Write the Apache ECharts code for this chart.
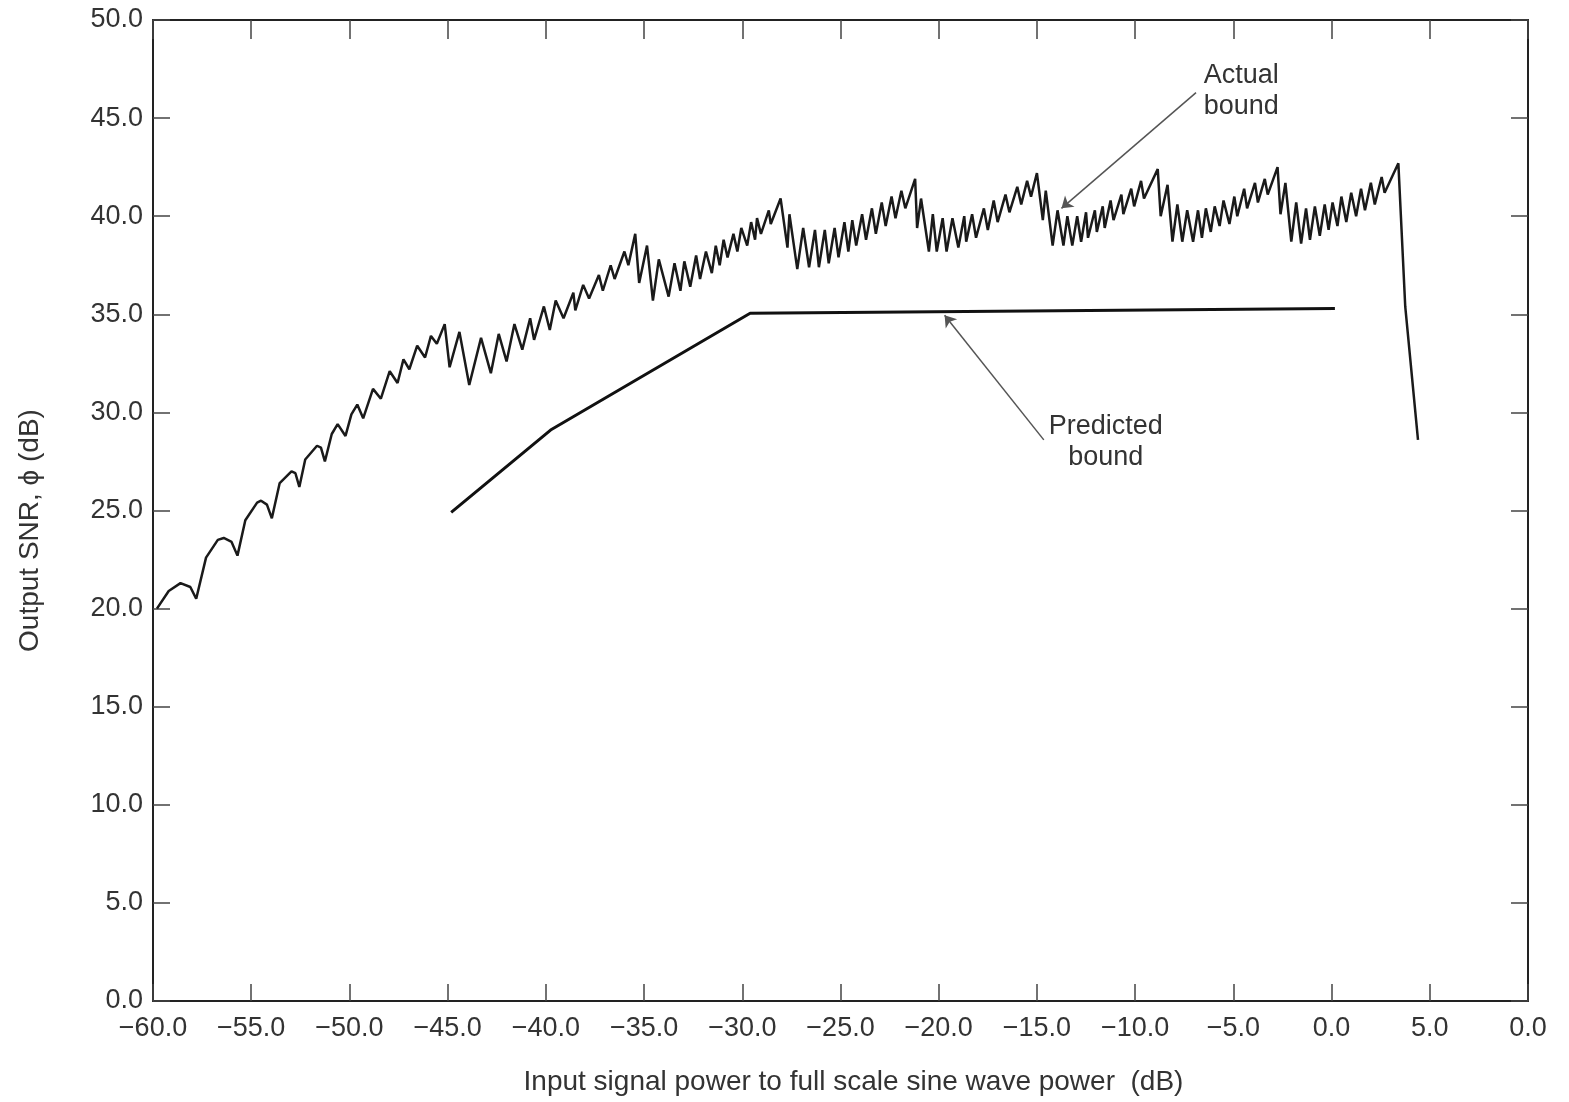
<!DOCTYPE html>
<html>
<head>
<meta charset="utf-8">
<script src="https://cdn.jsdelivr.net/npm/echarts@6/dist/echarts.min.js"></script>
<style>
  html, body { margin: 0; padding: 0; background: #fff; }
  #snr { width: 1569px; height: 1102px; }
</style>
</head>
<body>
<div id="snr"></div>
<script>
// tick labels, as printed on the original figure (last one really reads 0.0)
var xTickLabels = ['−60.0', '−55.0', '−50.0', '−45.0', '−40.0', '−35.0', '−30.0', '−25.0',
    '−20.0', '−15.0', '−10.0', '−5.0', '0.0', '5.0', '0.0'];
var yTickLabels = ['0.0', '5.0', '10.0', '15.0', '20.0', '25.0', '30.0', '35.0', '40.0', '45.0', '50.0'];

// actual bound, read segment by segment (x dB, y dB)
var scallops = [
    [-59.8, 20.0], [-59.2, 20.9], [-58.6, 21.3], [-58.1, 21.1], [-57.8, 20.5],
    [-57.3, 22.6], [-56.7, 23.5], [-56.4, 23.6], [-56.0, 23.4], [-55.7, 22.7],
    [-55.3, 24.5], [-54.7, 25.4], [-54.5, 25.5], [-54.2, 25.3], [-53.95, 24.6],
    [-53.55, 26.4], [-52.95, 27.0], [-52.75, 26.9], [-52.55, 26.2],
    [-52.25, 27.6], [-51.65, 28.3], [-51.45, 28.2], [-51.25, 27.5],
    [-50.9, 28.9], [-50.6, 29.4], [-50.2, 28.8],
    [-49.9, 29.9], [-49.6, 30.4], [-49.3, 29.7],
    [-48.8, 31.2], [-48.4, 30.7],
    [-47.95, 32.1], [-47.55, 31.5],
    [-47.25, 32.7], [-46.95, 32.2],
    [-46.55, 33.4], [-46.15, 32.8],
    [-45.85, 33.9], [-45.55, 33.5]
];
var segB = [
    [-45.15, 34.5], [-44.9, 32.3], [-44.4, 34.1], [-43.9, 31.4], [-43.3, 33.8], [-42.8, 32.0],
    [-42.4, 34.0], [-42.0, 32.6], [-41.6, 34.5], [-41.2, 33.2], [-40.8, 34.8], [-40.6, 33.7],
    [-40.1, 35.4], [-39.8, 34.2], [-39.5, 35.7], [-39.1, 34.8], [-38.6, 36.1], [-38.5, 35.2],
    [-38.1, 36.5], [-37.8, 35.8], [-37.3, 37.0], [-37.1, 36.2], [-36.7, 37.5], [-36.5, 36.8],
    [-36.0, 38.2], [-35.8, 37.5], [-35.45, 39.1]
];
var segC = [
    [-35.25, 36.6], [-34.85, 38.5], [-34.55, 35.7], [-34.25, 37.8], [-33.75, 35.9], [-33.45, 37.6],
    [-33.15, 36.2], [-32.95, 37.7], [-32.65, 36.4], [-32.35, 38.0], [-32.15, 36.8], [-31.85, 38.2],
    [-31.55, 37.1], [-31.35, 38.5], [-31.15, 37.5], [-30.95, 38.8], [-30.75, 37.9], [-30.45, 39.1],
    [-30.25, 38.2], [-30.05, 39.4], [-29.75, 38.5], [-29.55, 39.7], [-29.35, 38.8], [-29.25, 39.9],
    [-29.05, 39.1], [-28.65, 40.3], [-28.55, 39.6], [-28.05, 40.9]
];
var segD = [
    [-27.7, 38.4], [-27.6, 40.1], [-27.2, 37.3], [-26.9, 39.4], [-26.6, 37.4], [-26.3, 39.3],
    [-26.1, 37.4], [-25.8, 39.3], [-25.6, 37.6], [-25.3, 39.4], [-25.1, 37.9], [-24.8, 39.7],
    [-24.6, 38.2], [-24.4, 39.8], [-24.2, 38.5], [-23.9, 40.1], [-23.7, 38.8], [-23.4, 40.4],
    [-23.2, 39.1], [-22.9, 40.7], [-22.7, 39.5], [-22.4, 41.0], [-22.2, 39.9], [-21.9, 41.3],
    [-21.7, 40.4], [-21.2, 41.9]
];
var segE = [
    [-21.1, 39.4], [-20.9, 40.9], [-20.5, 38.2], [-20.3, 40.1], [-20.1, 38.2], [-19.8, 39.9],
    [-19.6, 38.2], [-19.3, 39.9], [-19.0, 38.4], [-18.7, 40.0], [-18.6, 38.7], [-18.3, 40.1],
    [-18.1, 38.9], [-17.7, 40.4], [-17.5, 39.3], [-17.2, 40.8], [-17.0, 39.7], [-16.6, 41.1],
    [-16.4, 40.2], [-16.0, 41.5], [-15.8, 40.6], [-15.5, 41.8], [-15.3, 41.0], [-15.0, 42.2]
];
var segF = [
    [-14.7, 39.8], [-14.55, 41.3], [-14.2, 38.5], [-13.95, 40.3], [-13.65, 38.5], [-13.45, 40.0],
    [-13.2, 38.5], [-12.95, 40.0], [-12.75, 38.7], [-12.5, 40.2], [-12.4, 38.9], [-12.05, 40.3],
    [-11.95, 39.2], [-11.65, 40.5], [-11.55, 39.4], [-11.25, 40.8], [-11.1, 39.8], [-10.7, 41.1],
    [-10.6, 40.1], [-10.2, 41.4], [-10.05, 40.5], [-9.7, 41.8], [-9.55, 40.9], [-8.85, 42.4]
];
var segG = [
    [-8.7, 40.0], [-8.35, 41.6], [-8.1, 38.7], [-7.85, 40.6], [-7.6, 38.7], [-7.35, 40.3],
    [-7.05, 38.7], [-6.8, 40.3], [-6.6, 38.9], [-6.4, 40.4], [-6.15, 39.2], [-5.95, 40.5],
    [-5.7, 39.5], [-5.5, 40.8], [-5.2, 39.6], [-4.95, 41.0], [-4.8, 40.0], [-4.45, 41.4],
    [-4.3, 40.4], [-3.9, 41.7], [-3.75, 40.7], [-3.4, 41.9], [-3.25, 41.1], [-2.75, 42.5]
];
var segH = [
    [-2.6, 40.1], [-2.35, 41.7], [-2.05, 38.7], [-1.8, 40.7], [-1.55, 38.6], [-1.3, 40.4],
    [-1.1, 38.8], [-0.85, 40.5], [-0.6, 39.0], [-0.35, 40.6], [-0.15, 39.3], [0.05, 40.7],
    [0.3, 39.5], [0.5, 41.0], [0.75, 39.7], [1.0, 41.2], [1.25, 40.0], [1.5, 41.4],
    [1.7, 40.3], [2.0, 41.7], [2.2, 40.6], [2.55, 42.0], [2.7, 41.2], [3.4, 42.7],
    [3.75, 35.4], [4.4, 28.6]
];

// predicted bound (piecewise straight)
var predicted = [[-44.82, 24.9], [-39.76, 29.1], [-29.6, 35.05], [0.17, 35.3]];

// callouts: [text x, text y], arrow from -> to
var actualLabelAt = [-4.6, 46.4];
var actualArrow = [[-6.9, 46.3], [-13.75, 40.4]];
var predictedLabelAt = [-11.5, 28.5];
var predictedArrow = [[-14.65, 28.6], [-19.7, 34.95]];

var actual = [].concat(scallops, segB, segC, segD, segE, segF, segG, segH);

var myChart = echarts.init(document.getElementById('snr'));

var font = '"Liberation Sans", Arial, sans-serif';
var inkLine = { color: '#222', width: 2 };
var tickStyle = { color: '#444', width: 1.5 };

option = {
    animation: false,
    backgroundColor: '#fff',
    grid: { left: 153, right: 41, top: 20, bottom: 101 },
    xAxis: [{
        type: 'value', min: -60, max: 10, interval: 5, position: 'bottom',
        axisLine: { onZero: false, lineStyle: inkLine },
        axisTick: { inside: true, length: 17, lineStyle: tickStyle },
        splitLine: { show: false },
        axisLabel: {
            margin: 14, fontSize: 27, color: '#333', fontFamily: font,
            formatter: function (v) { return xTickLabels[Math.round((v + 60) / 5)]; }
        },
        name: 'Input signal power to full scale sine wave power  (dB)',
        nameLocation: 'middle', nameGap: 67,
        nameTextStyle: { fontSize: 28, color: '#333', fontFamily: font, padding: [0, 0, 0, 26] }
    }, {
        type: 'value', min: -60, max: 10, interval: 5, position: 'top',
        axisLine: { onZero: false, lineStyle: inkLine },
        axisTick: { inside: true, length: 19, lineStyle: tickStyle },
        axisLabel: { show: false },
        splitLine: { show: false }
    }],
    yAxis: [{
        type: 'value', min: 0, max: 50, interval: 5, position: 'left',
        axisLine: { onZero: false, lineStyle: inkLine },
        axisTick: { inside: true, length: 17, lineStyle: tickStyle },
        splitLine: { show: false },
        axisLabel: {
            margin: 10, fontSize: 27, color: '#333', fontFamily: font,
            formatter: function (v) { return yTickLabels[Math.round(v / 5)]; }
        },
        name: 'Output SNR, ϕ (dB)',
        nameLocation: 'middle', nameGap: 109,
        nameTextStyle: { fontSize: 28, color: '#333', fontFamily: font, padding: [0, 40, 0, 0] }
    }, {
        type: 'value', min: 0, max: 50, interval: 5, position: 'right',
        axisLine: { onZero: false, lineStyle: inkLine },
        axisTick: { inside: true, length: 17, lineStyle: tickStyle },
        axisLabel: { show: false },
        splitLine: { show: false }
    }],
    series: [{
        name: 'Actual bound',
        type: 'line',
        showSymbol: false,
        silent: true,
        lineStyle: { color: '#1a1a1a', width: 2.5 },
        data: actual,
        markPoint: {
            silent: true,
            symbol: 'circle', symbolSize: 0,
            label: {
                show: true, position: 'inside', fontSize: 27, lineHeight: 31,
                color: '#333', fontFamily: font, align: 'center'
            },
            data: [
                { coord: actualLabelAt, value: 'Actual\nbound', label: { formatter: 'Actual\nbound' } },
                { coord: predictedLabelAt, value: 'Predicted\nbound', label: { formatter: 'Predicted\nbound' } }
            ]
        }
    }, {
        name: 'Predicted bound',
        type: 'line',
        showSymbol: false,
        silent: true,
        lineStyle: { color: '#111', width: 3 },
        data: predicted,
        markLine: {
            silent: true,
            symbol: ['none', 'arrow'],
            symbolSize: 11,
            label: { show: false },
            lineStyle: { color: '#555', width: 1.5, type: 'solid' },
            data: [
                [{ coord: actualArrow[0] }, { coord: actualArrow[1] }],
                [{ coord: predictedArrow[0] }, { coord: predictedArrow[1] }]
            ]
        }
    }]
};

myChart.setOption(option);
</script>
</body>
</html>
